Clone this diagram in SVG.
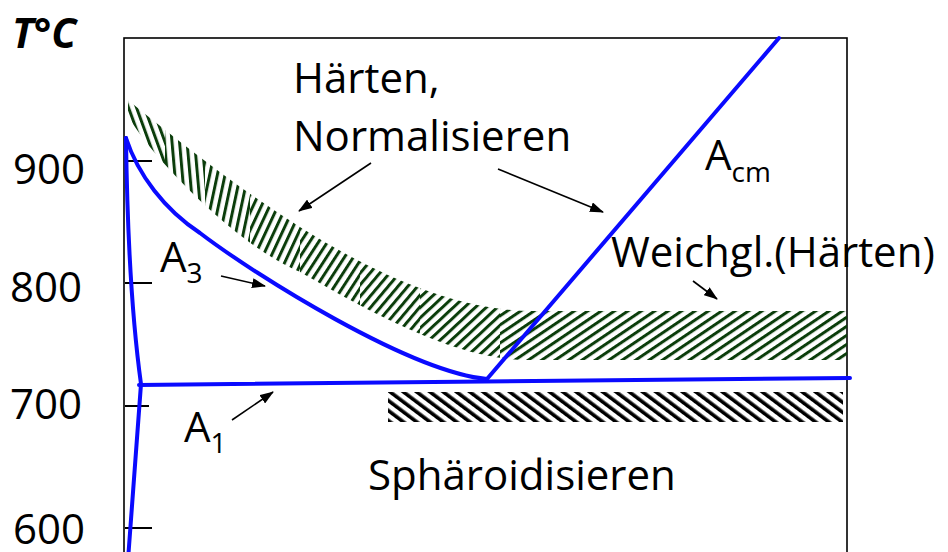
<svg xmlns="http://www.w3.org/2000/svg" width="948" height="552" viewBox="0 0 948 552">
<style>
text{font-family:"Open Sans","Noto Sans","Liberation Sans",sans-serif;font-size:42px;fill:#000}
.sub{font-size:28px}
.blue{fill:none;stroke:#0a0aff;stroke-width:4;stroke-linejoin:round;stroke-linecap:round}
.tick{stroke:#000;stroke-width:2}
.arr{stroke:#000;stroke-width:1.6;fill:none;marker-end:url(#ah)}
</style>
<defs>
<marker id="ah" markerUnits="userSpaceOnUse" markerWidth="14" markerHeight="10" refX="13" refY="5" orient="auto">
<path d="M0,0 L14,5 L0,10 z" fill="#000"/>
</marker>
<pattern id="pk" patternUnits="userSpaceOnUse" width="8" height="8" patternTransform="rotate(-53)"><rect width="3.6" height="8" fill="#000"/></pattern>
<pattern id="g1" patternUnits="userSpaceOnUse" width="7.5" height="8" patternTransform="rotate(-20)"><rect width="3" height="8" fill="#0b3d0b"/></pattern>
<pattern id="g2" patternUnits="userSpaceOnUse" width="7.5" height="8" patternTransform="rotate(-5)"><rect width="3" height="8" fill="#0b3d0b"/></pattern>
<pattern id="g3" patternUnits="userSpaceOnUse" width="7.5" height="8" patternTransform="rotate(12)"><rect width="3" height="8" fill="#0b3d0b"/></pattern>
<pattern id="g4" patternUnits="userSpaceOnUse" width="7.5" height="8" patternTransform="rotate(25)"><rect width="3" height="8" fill="#0b3d0b"/></pattern>
<pattern id="g5" patternUnits="userSpaceOnUse" width="7.5" height="8" patternTransform="rotate(33)"><rect width="3" height="8" fill="#0b3d0b"/></pattern>
<pattern id="g6" patternUnits="userSpaceOnUse" width="7.5" height="8" patternTransform="rotate(40)"><rect width="3" height="8" fill="#0b3d0b"/></pattern>
<pattern id="g7" patternUnits="userSpaceOnUse" width="7.5" height="8" patternTransform="rotate(47)"><rect width="3" height="8" fill="#0b3d0b"/></pattern>
<pattern id="g9" patternUnits="userSpaceOnUse" width="7.5" height="8" patternTransform="rotate(56)"><rect width="3" height="8" fill="#0b3d0b"/></pattern>
<clipPath id="band">
<path d="M128,100 C250,200 400,311 533,311 L847,311 L847,360 L527,360 C460,360 380,318 300,272 C235,245 150,155 128,116 Z"/>
</clipPath>
</defs>

<g id="frame">
<rect x="124" y="38" width="723" height="530" fill="none" stroke="#000" stroke-width="1.6"/>
<line class="tick" x1="125" y1="161" x2="152" y2="161"/>
<line class="tick" x1="125" y1="283" x2="152" y2="283"/>
<line class="tick" x1="125" y1="406" x2="149" y2="406"/>
<line class="tick" x1="125" y1="528" x2="152" y2="528"/>
</g>

<g id="axis-labels">
<text x="12" y="48" font-weight="bold" font-style="italic" style="font-size:41px">T°C</text>
<text x="13" y="184">900</text>
<text x="10" y="302">800</text>
<text x="10" y="419">700</text>
<text x="13" y="544">600</text>
</g>

<g id="band-green" clip-path="url(#band)">
<rect x="124" y="90" width="41" height="280" fill="url(#g1)"/>
<rect x="165" y="90" width="40" height="280" fill="url(#g2)"/>
<rect x="205" y="90" width="45" height="280" fill="url(#g3)"/>
<rect x="250" y="90" width="50" height="280" fill="url(#g4)"/>
<rect x="300" y="90" width="60" height="280" fill="url(#g5)"/>
<rect x="360" y="90" width="60" height="280" fill="url(#g6)"/>
<rect x="420" y="90" width="80" height="280" fill="url(#g7)"/>
<rect x="500" y="90" width="350" height="280" fill="url(#g9)"/>
</g>

<g id="band-black">
<rect x="388" y="392" width="455" height="30" fill="url(#pk)"/>
</g>

<g id="curves">
<path id="left-line" class="blue" d="M126,138 Q128,290 141,384 L128,560"/>
<path id="A3-line" class="blue" d="M126,138 C138,175 165,210 200,233 C255,275 410,372 487,379"/>
<path id="A1-line" class="blue" d="M139,385 L850,378"/>
<path id="Acm-line" class="blue" d="M487,379 L779,38"/>
</g>

<g id="labels">
<text x="293" y="93">Härten,</text>
<text x="293" y="151">Normalisieren</text>
<text x="705" y="170">A<tspan class="sub" dy="12">cm</tspan></text>
<text x="611" y="267">Weichgl.(Härten)</text>
<text x="160" y="272">A<tspan class="sub" dy="11">3</tspan></text>
<text x="184" y="442">A<tspan class="sub" dy="11">1</tspan></text>
<text x="368" y="490">Sphäroidisieren</text>
</g>

<g id="connectors">
<line class="arr" x1="371" y1="163" x2="299" y2="211"/>
<line class="arr" x1="498" y1="169" x2="603" y2="212"/>
<line class="arr" x1="221" y1="276" x2="265" y2="286"/>
<line class="arr" x1="693" y1="281" x2="717" y2="299"/>
<line class="arr" x1="232" y1="420" x2="273" y2="392"/>
</g>
</svg>
